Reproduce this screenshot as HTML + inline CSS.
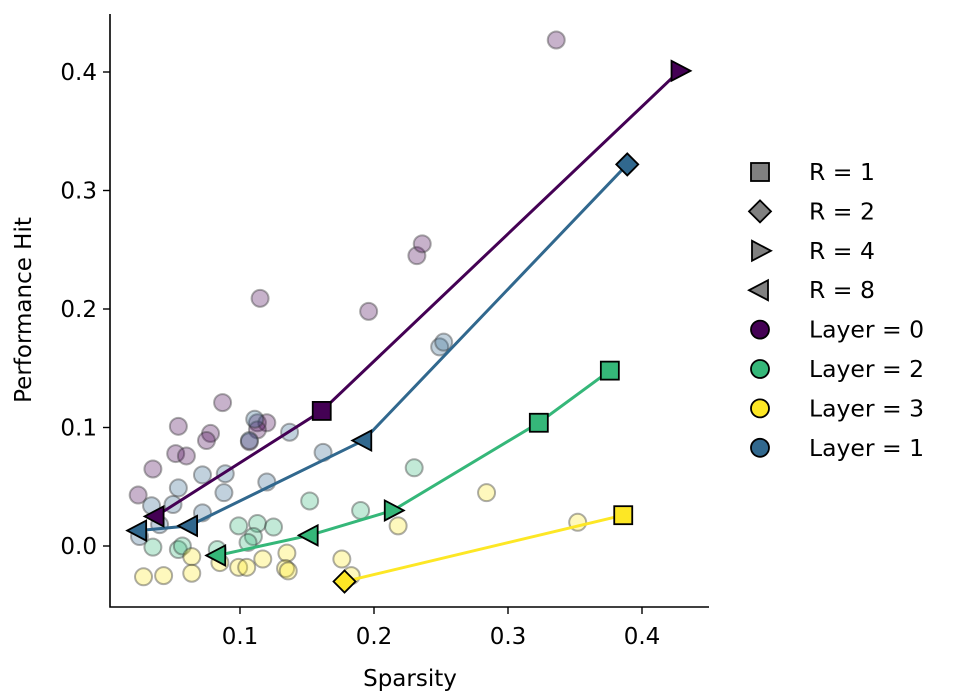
<!DOCTYPE html>
<html><head><meta charset="utf-8"><style>
body{margin:0;background:#fff;}
svg{display:block;font-family:"DejaVu Sans","Liberation Sans",sans-serif;}
</style></head><body>
<svg id="chart" width="958" height="697"></svg>
<script>
const xTicks=[0.1,0.2,0.3,0.4];
const yTicks=[0.0,0.1,0.2,0.3,0.4];
const xTickLabels=["0.1","0.2","0.3","0.4"];
const yTickLabels=["0.0","0.1","0.2","0.3","0.4"];
const layerColors=["#440154","#31688e","#35b779","#fde725"];
const scatter0x=[.087,.054,.078,.075,.052,.060,.035,.024,.113,.120,.113,.107,.196,.232,.236,.115,.336];
const scatter0y=[.121,.101,.095,.089,.078,.076,.065,.043,.104,.104,.098,.088,.198,.245,.255,.209,.427];
const scatter1x=[.111,.137,.107,.072,.089,.120,.054,.088,.034,.050,.072,.040,.025,.162,.249,.252];
const scatter1y=[.107,.096,.089,.060,.061,.054,.049,.045,.034,.035,.028,.018,.008,.079,.168,.172];
const scatter2x=[.099,.113,.125,.152,.035,.054,.057,.083,.110,.106,.230,.190];
const scatter2y=[.017,.019,.016,.038,-.001,-.003,0,-.003,.008,.003,.066,.030];
const scatter3x=[.064,.064,.028,.043,.085,.099,.105,.117,.135,.134,.136,.176,.183,.218,.284,.352];
const scatter3y=[-.009,-.023,-.026,-.025,-.014,-.018,-.018,-.011,-.006,-.019,-.021,-.011,-.025,.017,.045,.020];
const line0x=[.037,.161,.428], line0y=[.025,.114,.401], line0m=["tl","sq","tr"];
const line1x=[.024,.062,.192,.389], line1y=[.013,.017,.089,.322], line1m=["tl","tl","tl","di"];
const line2x=[.083,.152,.214,.323,.376], line2y=[-.008,.009,.030,.104,.148], line2m=["tl","tl","tr","sq","sq"];
const line3x=[.178,.386], line3y=[-.030,.026], line3m=["di","sq"];

const NS="http://www.w3.org/2000/svg";
const svg=document.getElementById('chart');
const X=v=>106+v*1340, Y=v=>546-v*1185;
function mk(tag,attrs,parent){const e=document.createElementNS(NS,tag);for(const k in attrs)e.setAttribute(k,attrs[k]);(parent||svg).appendChild(e);return e;}
function marker(type,cx,cy,fill,parent){
  const s=9;let e;
  if(type==="sq") e=mk('rect',{x:cx-s,y:cy-s,width:2*s,height:2*s},parent);
  else if(type==="di") e=mk('polygon',{points:`${cx},${cy-11} ${cx+11},${cy} ${cx},${cy+11} ${cx-11},${cy}`},parent);
  else if(type==="tr") e=mk('polygon',{points:`${cx+11},${cy} ${cx-8},${cy-10} ${cx-8},${cy+10}`},parent);
  else if(type==="tl") e=mk('polygon',{points:`${cx-11},${cy} ${cx+8},${cy-10} ${cx+8},${cy+10}`},parent);
  else e=mk('circle',{cx:cx,cy:cy,r:9},parent);
  e.setAttribute('fill',fill);e.setAttribute('stroke','#000');e.setAttribute('stroke-width','1.8');
  return e;
}
const scat=[[scatter0x,scatter0y],[scatter1x,scatter1y],[scatter2x,scatter2y],[scatter3x,scatter3y]];
scat.forEach((s,li)=>{
  s[0].forEach((xv,i)=>{
    const c=mk('circle',{cx:X(xv),cy:Y(s[1][i]),r:8.5,fill:layerColors[li],'fill-opacity':0.3,stroke:'#333','stroke-opacity':0.4,'stroke-width':2});
    
    
  });
});
const lines=[[line0x,line0y,line0m,0],[line1x,line1y,line1m,1],[line2x,line2y,line2m,2],[line3x,line3y,line3m,3]];
lines.forEach(l=>{
  const pts=l[0].map((xv,i)=>X(xv)+','+Y(l[1][i])).join(' ');
  const p=mk('polyline',{points:pts,fill:'none',stroke:layerColors[l[3]],'stroke-width':3});
  
  
});
lines.forEach(l=>{
  l[0].forEach((xv,i)=>{
    const m=marker(l[2][i],X(xv),Y(l[1][i]),layerColors[l[3]]);
    
    
  });
});
const ax=mk('path',{d:'M110,14 V607 H709',fill:'none',stroke:'#000','stroke-width':1.6});


xTicks.forEach((v,i)=>{
  mk('line',{x1:X(v),x2:X(v),y1:607,y2:614,stroke:'#000','stroke-width':1.4});
  const t=mk('text',{x:X(v),y:644,'text-anchor':'middle','font-size':23});t.textContent=xTickLabels[i];
  
  
});
yTicks.forEach((v,i)=>{
  mk('line',{x1:103,x2:110,y1:Y(v),y2:Y(v),stroke:'#000','stroke-width':1.4});
  const t=mk('text',{x:97,y:Y(v)+8,'text-anchor':'end','font-size':23});t.textContent=yTickLabels[i];
  
  
});
const xl=mk('text',{x:410,y:686,'text-anchor':'middle','font-size':23});xl.textContent='Sparsity';


const yl=mk('text',{x:0,y:0,'text-anchor':'middle','font-size':23,transform:'translate(31,310) rotate(-90)'});yl.textContent='Performance Hit';


const legTypes=["sq","di","tr","tl","ci","ci","ci","ci"];
const legFills=["#808080","#808080","#808080","#808080","#440154","#35b779","#fde725","#31688e"];
const legLabels=["R = 1","R = 2","R = 4","R = 8","Layer = 0","Layer = 2","Layer = 3","Layer = 1"];
legLabels.forEach((lab,i)=>{
  const yy=172+i*39.4;
  const g=mk('g',{});
  
  
  marker(legTypes[i],760,yy,legFills[i],g);
  const t=mk('text',{x:809,y:yy+8,'font-size':23.5},g);t.textContent=lab;
});
</script>
</body></html>
